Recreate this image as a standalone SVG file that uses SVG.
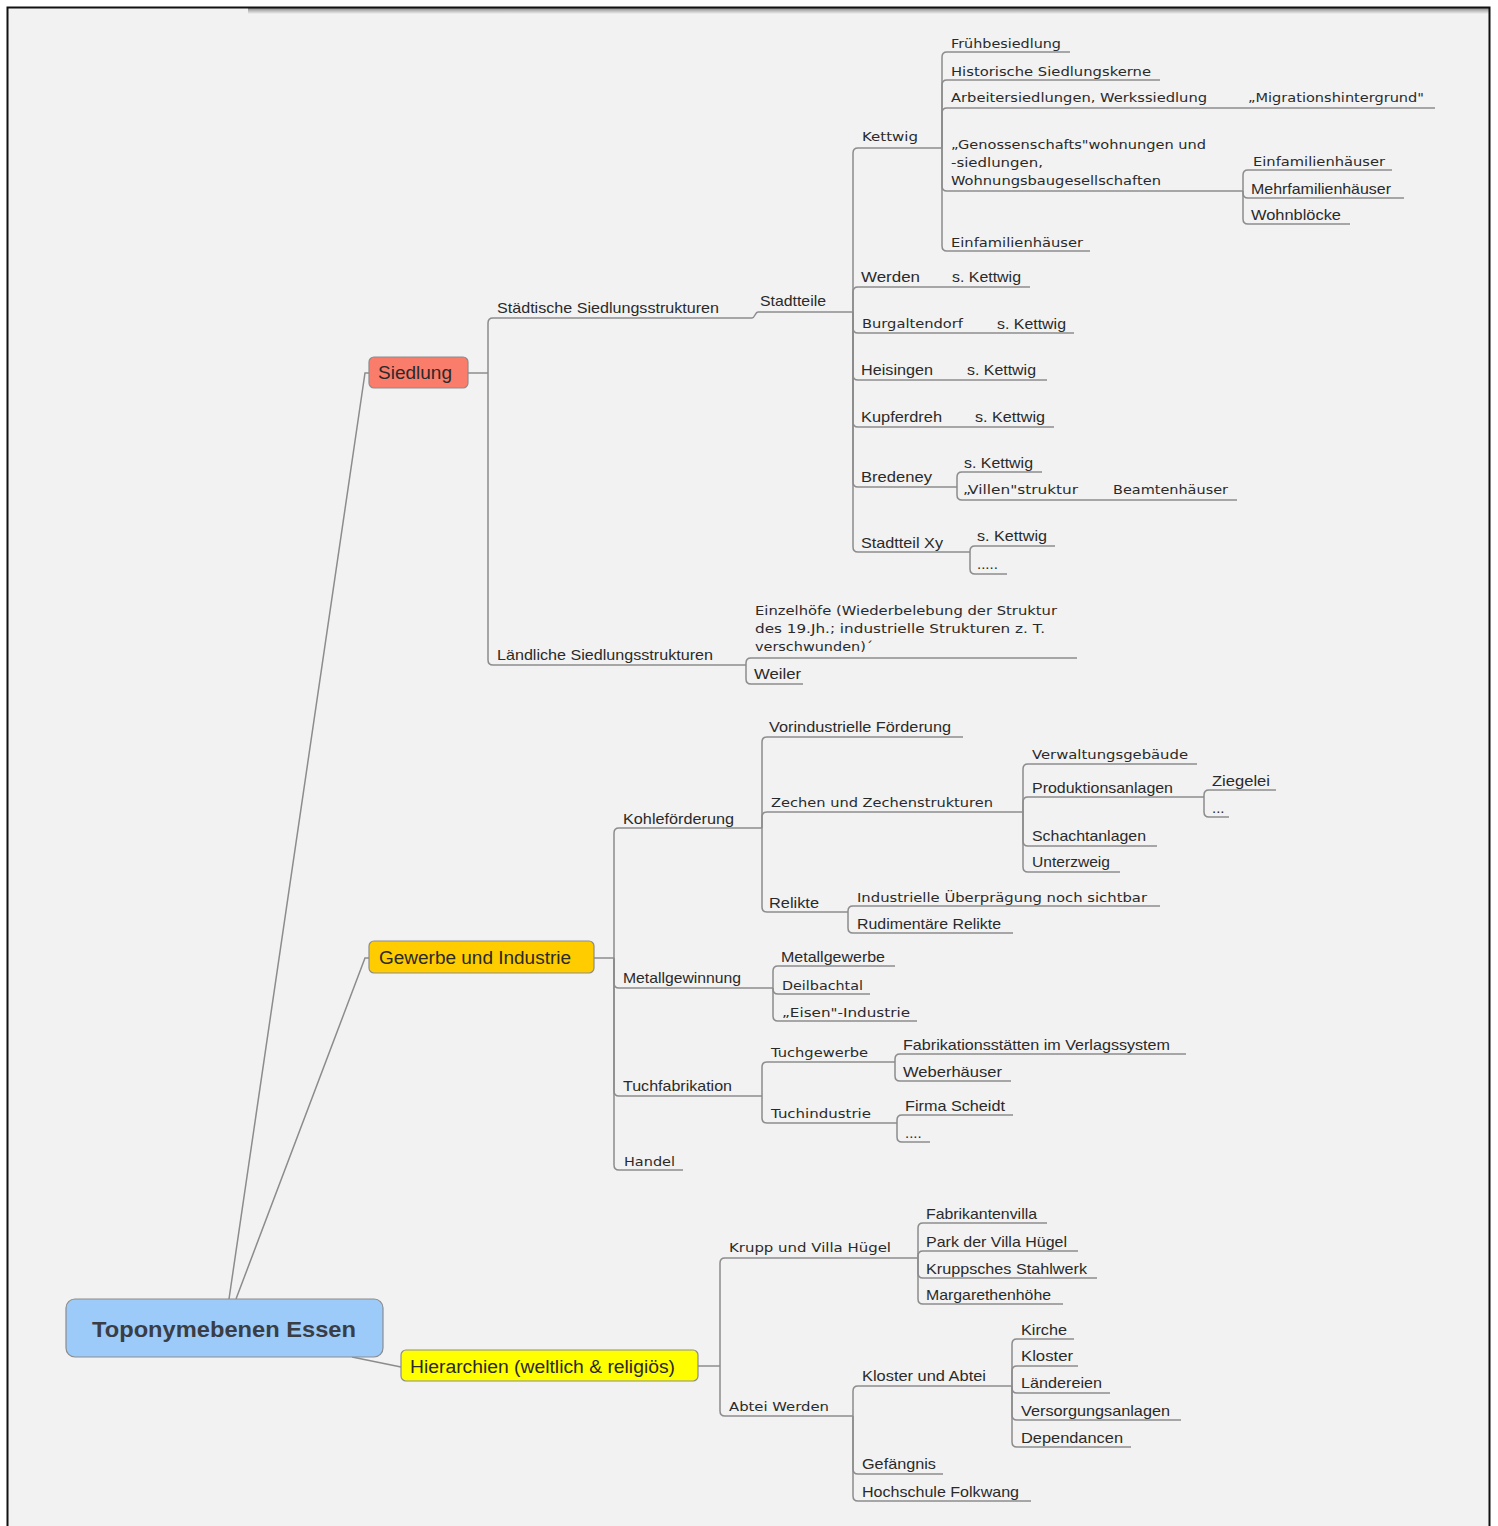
<svg xmlns="http://www.w3.org/2000/svg" width="1498" height="1526" viewBox="0 0 1498 1526">
<style>
.t{font-family:"Liberation Sans",Arial,sans-serif;font-size:15px;fill:#2a2a2a}
.v{font-family:"DejaVu Sans",Verdana,sans-serif;font-size:13px;fill:#2a2a2a}
.b{font-family:"Liberation Sans",Arial,sans-serif;font-size:18px;fill:#2a2a2a}
.u{fill:none;stroke:#8c8c8c;stroke-width:1.5}
.c{fill:none;stroke:#8c8c8c;stroke-width:1.5}
.box{stroke:#8c8c8c;stroke-width:1.2}
</style>
<defs>
<linearGradient id="sh" x1="0" y1="0" x2="0" y2="1">
<stop offset="0" stop-color="#8a8a8a"/>
<stop offset="1" stop-color="#f2f2f2"/>
</linearGradient>
</defs>
<rect x="0" y="0" width="1498" height="1526" fill="#ffffff"/>
<rect x="8" y="8" width="1481" height="1518" fill="#f2f2f2"/>
<rect x="248" y="8" width="1241" height="6" fill="url(#sh)"/>
<path d="M7.5 1526 V7.5 H1489.5 V1526" fill="none" stroke="#111" stroke-width="2"/>

<g id="connectors">
<path class="c" d="M229 1299 L365 373 L369 373"/>
<path class="c" d="M236 1299 L365 958 L369 958"/>
<path class="c" d="M352 1357 L401 1367"/>
<!-- Siedlung -->
<path class="c" d="M468 373 H488"/>
<path class="c" d="M488 373 V323 Q488 318 493 318"/>
<path class="c" d="M488 373 V660 Q488 665 493 665"/>
<path class="c" d="M752 318 C755 318 755 312 758 312"/>
<!-- Stadtteile -->
<path class="c" d="M853 312 V153 Q853 148 858 148"/>
<path class="c" d="M853 312 V292 Q853 287 858 287"/>
<path class="c" d="M853 312 V328 Q853 333 858 333"/>
<path class="c" d="M853 312 V375 Q853 380 858 380"/>
<path class="c" d="M853 312 V422 Q853 427 858 427"/>
<path class="c" d="M853 312 V482 Q853 487 858 487"/>
<path class="c" d="M853 312 V547 Q853 552 858 552"/>
<!-- Kettwig -->
<path class="c" d="M942 148 V57 Q942 52 947 52"/>
<path class="c" d="M942 148 V85 Q942 80 947 80"/>
<path class="c" d="M942 148 V113 Q942 108 947 108"/>
<path class="c" d="M942 148 V186 Q942 191 947 191"/>
<path class="c" d="M942 148 V246 Q942 251 947 251"/>
<!-- Genossenschafts -->
<path class="c" d="M1243 191 V175 Q1243 170 1248 170"/>
<path class="c" d="M1243 191 V193 Q1243 198 1248 198"/>
<path class="c" d="M1243 191 V219 Q1243 224 1248 224"/>
<!-- Bredeney -->
<path class="c" d="M957 487 V477 Q957 472 962 472"/>
<path class="c" d="M957 487 V495 Q957 500 962 500"/>
<!-- Stadtteil Xy -->
<path class="c" d="M970 552 V551 Q970 546 975 546"/>
<path class="c" d="M970 552 V569 Q970 574 975 574"/>
<!-- Laendliche -->
<path class="c" d="M746 665 V663 Q746 658 751 658"/>
<path class="c" d="M746 665 V679 Q746 684 751 684"/>
<!-- Gewerbe -->
<path class="c" d="M594 958 H614"/>
<path class="c" d="M614 958 V833 Q614 828 619 828"/>
<path class="c" d="M614 958 V983 Q614 988 619 988"/>
<path class="c" d="M614 958 V1091 Q614 1096 619 1096"/>
<path class="c" d="M614 958 V1165 Q614 1170 619 1170"/>
<!-- Kohlefoerderung -->
<path class="c" d="M762 828 V742 Q762 737 767 737"/>
<path class="c" d="M762 828 V817 Q762 812 767 812"/>
<path class="c" d="M762 828 V907 Q762 912 767 912"/>
<!-- Zechen -->
<path class="c" d="M1023 812 V769 Q1023 764 1028 764"/>
<path class="c" d="M1023 812 V802 Q1023 797 1028 797"/>
<path class="c" d="M1023 812 V841 Q1023 846 1028 846"/>
<path class="c" d="M1023 812 V867 Q1023 872 1028 872"/>
<!-- Produktionsanlagen -->
<path class="c" d="M1204 797 V795 Q1204 790 1209 790"/>
<path class="c" d="M1204 797 V812 Q1204 817 1209 817"/>
<!-- Relikte -->
<path class="c" d="M848 912 V911 Q848 906 853 906"/>
<path class="c" d="M848 912 V928 Q848 933 853 933"/>
<!-- Metallgewinnung -->
<path class="c" d="M773 988 V971 Q773 966 778 966"/>
<path class="c" d="M773 988 V989 Q773 994 778 994"/>
<path class="c" d="M773 988 V1016 Q773 1021 778 1021"/>
<!-- Tuchfabrikation -->
<path class="c" d="M762 1096 V1067 Q762 1062 767 1062"/>
<path class="c" d="M762 1096 V1118 Q762 1123 767 1123"/>
<path class="c" d="M895 1062 V1059 Q895 1054 900 1054"/>
<path class="c" d="M895 1062 V1076 Q895 1081 900 1081"/>
<path class="c" d="M897 1123 V1120 Q897 1115 902 1115"/>
<path class="c" d="M897 1123 V1137 Q897 1142 902 1142"/>
<!-- Hierarchien -->
<path class="c" d="M698 1366 H720"/>
<path class="c" d="M720 1366 V1263 Q720 1258 725 1258"/>
<path class="c" d="M720 1366 V1411 Q720 1416 725 1416"/>
<path class="c" d="M918 1258 V1228 Q918 1223 923 1223"/>
<path class="c" d="M918 1258 V1256 Q918 1251 923 1251"/>
<path class="c" d="M918 1258 V1273 Q918 1278 923 1278"/>
<path class="c" d="M918 1258 V1299 Q918 1304 923 1304"/>
<path class="c" d="M853 1416 V1391 Q853 1386 858 1386"/>
<path class="c" d="M853 1416 V1469 Q853 1474 858 1474"/>
<path class="c" d="M853 1416 V1496 Q853 1501 858 1501"/>
<path class="c" d="M1012 1386 V1344 Q1012 1339 1017 1339"/>
<path class="c" d="M1012 1386 V1371 Q1012 1366 1017 1366"/>
<path class="c" d="M1012 1386 V1388 Q1012 1393 1017 1393"/>
<path class="c" d="M1012 1386 V1415 Q1012 1420 1017 1420"/>
<path class="c" d="M1012 1386 V1442 Q1012 1447 1017 1447"/>
</g>

<g id="root"><rect class="box" x="66" y="1299" width="317" height="58" rx="9" fill="#9ccbfa"/><text x="224" y="1337" text-anchor="middle" font-family="Liberation Sans,Arial,sans-serif" font-size="22" font-weight="bold" fill="#3a3d44" textLength="264" lengthAdjust="spacingAndGlyphs">Toponymebenen Essen</text></g>
<g id="siedlung"><rect class="box" x="369" y="357" width="99" height="31" rx="5" fill="#fa7d6c"/><text class="b" x="378" y="379" textLength="74" lengthAdjust="spacingAndGlyphs">Siedlung</text></g>
<g id="gewerbe"><rect class="box" x="369" y="941" width="225" height="32" rx="5" fill="#ffcc00"/><text class="b" x="379" y="964" textLength="192" lengthAdjust="spacingAndGlyphs">Gewerbe und Industrie</text></g>
<g id="hierarchien"><rect class="box" x="401" y="1350" width="297" height="31" rx="5" fill="#ffff00"/><text class="b" x="410" y="1373" textLength="265" lengthAdjust="spacingAndGlyphs">Hierarchien (weltlich &amp; religiös)</text></g>

<g id="staedtische"><text class="t" x="497" y="313" textLength="222" lengthAdjust="spacingAndGlyphs">Städtische Siedlungsstrukturen</text><path class="u" d="M493 318 H752"/></g>
<g id="stadtteile"><text class="t" x="760" y="306" textLength="66" lengthAdjust="spacingAndGlyphs">Stadtteile</text><path class="u" d="M758 312 H853"/></g>
<g id="kettwig"><text class="v" x="862" y="141" textLength="56" lengthAdjust="spacingAndGlyphs">Kettwig</text><path class="u" d="M858 148 H942"/></g>
<g id="fruehbesiedlung"><text class="v" x="951" y="48" textLength="110" lengthAdjust="spacingAndGlyphs">Frühbesiedlung</text><path class="u" d="M947 52 H1070"/></g>
<g id="historische"><text class="v" x="951" y="76" textLength="200" lengthAdjust="spacingAndGlyphs">Historische Siedlungskerne</text><path class="u" d="M947 80 H1160"/></g>
<g id="arbeiter"><text class="v" x="951" y="102" textLength="256" lengthAdjust="spacingAndGlyphs">Arbeitersiedlungen, Werkssiedlung</text><path class="u" d="M947 108 H1240"/></g>
<g id="migration"><text class="v" x="1248" y="102" textLength="176" lengthAdjust="spacingAndGlyphs">„Migrationshintergrund"</text><path class="u" d="M1240 108 H1435"/></g>
<g id="genossenschaft"><text class="v" x="951" y="149" textLength="255" lengthAdjust="spacingAndGlyphs">„Genossenschafts"wohnungen und</text><text class="v" x="951" y="167" textLength="92" lengthAdjust="spacingAndGlyphs">-siedlungen,</text><text class="v" x="951" y="185" textLength="210" lengthAdjust="spacingAndGlyphs">Wohnungsbaugesellschaften</text><path class="u" d="M947 191 H1243"/></g>
<g id="einfam1"><text class="v" x="1253" y="166" textLength="132" lengthAdjust="spacingAndGlyphs">Einfamilienhäuser</text><path class="u" d="M1248 170 H1392"/></g>
<g id="mehrfam"><text class="t" x="1251" y="194" textLength="140" lengthAdjust="spacingAndGlyphs">Mehrfamilienhäuser</text><path class="u" d="M1248 198 H1404"/></g>
<g id="wohnbloecke"><text class="t" x="1251" y="220" textLength="90" lengthAdjust="spacingAndGlyphs">Wohnblöcke</text><path class="u" d="M1248 224 H1350"/></g>
<g id="einfam2"><text class="v" x="951" y="247" textLength="132" lengthAdjust="spacingAndGlyphs">Einfamilienhäuser</text><path class="u" d="M947 251 H1090"/></g>

<g id="werden"><text class="t" x="861" y="282" textLength="59" lengthAdjust="spacingAndGlyphs">Werden</text><path class="u" d="M858 287 H945"/></g>
<g id="werden-s"><text class="t" x="952" y="282" textLength="69" lengthAdjust="spacingAndGlyphs">s. Kettwig</text><path class="u" d="M945 287 H1030"/></g>
<g id="burgaltendorf"><text class="v" x="862" y="328" textLength="101" lengthAdjust="spacingAndGlyphs">Burgaltendorf</text><path class="u" d="M858 333 H990"/></g>
<g id="burgaltendorf-s"><text class="t" x="997" y="329" textLength="69" lengthAdjust="spacingAndGlyphs">s. Kettwig</text><path class="u" d="M990 333 H1074"/></g>
<g id="heisingen"><text class="t" x="861" y="375" textLength="72" lengthAdjust="spacingAndGlyphs">Heisingen</text><path class="u" d="M858 380 H960"/></g>
<g id="heisingen-s"><text class="t" x="967" y="375" textLength="69" lengthAdjust="spacingAndGlyphs">s. Kettwig</text><path class="u" d="M960 380 H1047"/></g>
<g id="kupferdreh"><text class="t" x="861" y="422" textLength="81" lengthAdjust="spacingAndGlyphs">Kupferdreh</text><path class="u" d="M858 427 H968"/></g>
<g id="kupferdreh-s"><text class="t" x="975" y="422" textLength="70" lengthAdjust="spacingAndGlyphs">s. Kettwig</text><path class="u" d="M968 427 H1054"/></g>
<g id="bredeney"><text class="t" x="861" y="482" textLength="71" lengthAdjust="spacingAndGlyphs">Bredeney</text><path class="u" d="M858 487 H957"/></g>
<g id="bredeney-s"><text class="t" x="964" y="468" textLength="69" lengthAdjust="spacingAndGlyphs">s. Kettwig</text><path class="u" d="M962 472 H1042"/></g>
<g id="villen"><text class="v" x="963" y="494" textLength="115" lengthAdjust="spacingAndGlyphs">„Villen"struktur</text><path class="u" d="M962 500 H1105"/></g>
<g id="beamten"><text class="v" x="1113" y="494" textLength="115" lengthAdjust="spacingAndGlyphs">Beamtenhäuser</text><path class="u" d="M1105 500 H1237"/></g>
<g id="stadtteilxy"><text class="t" x="861" y="548" textLength="82" lengthAdjust="spacingAndGlyphs">Stadtteil Xy</text><path class="u" d="M858 552 H970"/></g>
<g id="xy-s"><text class="t" x="977" y="541" textLength="70" lengthAdjust="spacingAndGlyphs">s. Kettwig</text><path class="u" d="M975 546 H1055"/></g>
<g id="xy-dots"><text class="t" x="977" y="569" font-size="11">.....</text><path class="u" d="M975 574 H1007"/></g>

<g id="laendliche"><text class="t" x="497" y="660" textLength="216" lengthAdjust="spacingAndGlyphs">Ländliche Siedlungsstrukturen</text><path class="u" d="M493 665 H746"/></g>
<g id="einzelhoefe"><text class="v" x="755" y="615" textLength="302" lengthAdjust="spacingAndGlyphs">Einzelhöfe (Wiederbelebung der Struktur</text><text class="v" x="755" y="633" textLength="290" lengthAdjust="spacingAndGlyphs">des 19.Jh.; industrielle Strukturen z. T.</text><text class="v" x="755" y="651" textLength="118" lengthAdjust="spacingAndGlyphs">verschwunden)´</text><path class="u" d="M751 658 H1077"/></g>
<g id="weiler"><text class="t" x="754" y="679" textLength="47" lengthAdjust="spacingAndGlyphs">Weiler</text><path class="u" d="M751 684 H803"/></g>

<g id="kohle"><text class="t" x="623" y="824" textLength="111" lengthAdjust="spacingAndGlyphs">Kohleförderung</text><path class="u" d="M619 828 H762"/></g>
<g id="vorindustrielle"><text class="t" x="769" y="732" textLength="182" lengthAdjust="spacingAndGlyphs">Vorindustrielle Förderung</text><path class="u" d="M767 737 H963"/></g>
<g id="zechen"><text class="v" x="771" y="807" textLength="222" lengthAdjust="spacingAndGlyphs">Zechen und Zechenstrukturen</text><path class="u" d="M767 812 H1023"/></g>
<g id="verwaltung"><text class="v" x="1032" y="759" textLength="156" lengthAdjust="spacingAndGlyphs">Verwaltungsgebäude</text><path class="u" d="M1028 764 H1197"/></g>
<g id="produktion"><text class="t" x="1032" y="793" textLength="141" lengthAdjust="spacingAndGlyphs">Produktionsanlagen</text><path class="u" d="M1028 797 H1204"/></g>
<g id="ziegelei"><text class="t" x="1212" y="786" textLength="58" lengthAdjust="spacingAndGlyphs">Ziegelei</text><path class="u" d="M1209 790 H1276"/></g>
<g id="prod-dots"><text class="t" x="1212" y="813" font-size="11">...</text><path class="u" d="M1209 817 H1229"/></g>
<g id="schacht"><text class="t" x="1032" y="841" textLength="114" lengthAdjust="spacingAndGlyphs">Schachtanlagen</text><path class="u" d="M1028 846 H1157"/></g>
<g id="unterzweig"><text class="t" x="1032" y="867" textLength="78" lengthAdjust="spacingAndGlyphs">Unterzweig</text><path class="u" d="M1028 872 H1120"/></g>
<g id="relikte"><text class="t" x="769" y="908" textLength="50" lengthAdjust="spacingAndGlyphs">Relikte</text><path class="u" d="M767 912 H848"/></g>
<g id="ueberpraegung"><text class="v" x="857" y="902" textLength="290" lengthAdjust="spacingAndGlyphs">Industrielle Überprägung noch sichtbar</text><path class="u" d="M853 906 H1160"/></g>
<g id="rudimentaer"><text class="t" x="857" y="929" textLength="144" lengthAdjust="spacingAndGlyphs">Rudimentäre Relikte</text><path class="u" d="M853 933 H1013"/></g>

<g id="metallgewinnung"><text class="t" x="623" y="983" textLength="118" lengthAdjust="spacingAndGlyphs">Metallgewinnung</text><path class="u" d="M619 988 H773"/></g>
<g id="metallgewerbe"><text class="t" x="781" y="962" textLength="104" lengthAdjust="spacingAndGlyphs">Metallgewerbe</text><path class="u" d="M778 966 H895"/></g>
<g id="deilbachtal"><text class="v" x="782" y="990" textLength="81" lengthAdjust="spacingAndGlyphs">Deilbachtal</text><path class="u" d="M778 994 H870"/></g>
<g id="eisen"><text class="v" x="782" y="1017" textLength="128" lengthAdjust="spacingAndGlyphs">„Eisen"-Industrie</text><path class="u" d="M778 1021 H917"/></g>

<g id="tuchfabrikation"><text class="t" x="623" y="1091" textLength="109" lengthAdjust="spacingAndGlyphs">Tuchfabrikation</text><path class="u" d="M619 1096 H762"/></g>
<g id="tuchgewerbe"><text class="v" x="771" y="1057" textLength="97" lengthAdjust="spacingAndGlyphs">Tuchgewerbe</text><path class="u" d="M767 1062 H895"/></g>
<g id="fabrikation"><text class="t" x="903" y="1050" textLength="267" lengthAdjust="spacingAndGlyphs">Fabrikationsstätten im Verlagssystem</text><path class="u" d="M900 1054 H1186"/></g>
<g id="weberhaeuser"><text class="t" x="903" y="1077" textLength="99" lengthAdjust="spacingAndGlyphs">Weberhäuser</text><path class="u" d="M900 1081 H1011"/></g>
<g id="tuchindustrie"><text class="v" x="771" y="1118" textLength="100" lengthAdjust="spacingAndGlyphs">Tuchindustrie</text><path class="u" d="M767 1123 H897"/></g>
<g id="scheidt"><text class="t" x="905" y="1111" textLength="100" lengthAdjust="spacingAndGlyphs">Firma Scheidt</text><path class="u" d="M902 1115 H1013"/></g>
<g id="tuch-dots"><text class="t" x="905" y="1138" font-size="11">....</text><path class="u" d="M902 1142 H930"/></g>
<g id="handel"><text class="v" x="624" y="1166" textLength="51" lengthAdjust="spacingAndGlyphs">Handel</text><path class="u" d="M619 1170 H683"/></g>

<g id="krupp"><text class="v" x="729" y="1252" textLength="162" lengthAdjust="spacingAndGlyphs">Krupp und Villa Hügel</text><path class="u" d="M725 1258 H918"/></g>
<g id="fabrikantenvilla"><text class="t" x="926" y="1219" textLength="111" lengthAdjust="spacingAndGlyphs">Fabrikantenvilla</text><path class="u" d="M923 1223 H1047"/></g>
<g id="park"><text class="t" x="926" y="1247" textLength="141" lengthAdjust="spacingAndGlyphs">Park der Villa Hügel</text><path class="u" d="M923 1251 H1078"/></g>
<g id="stahlwerk"><text class="t" x="926" y="1274" textLength="161" lengthAdjust="spacingAndGlyphs">Kruppsches Stahlwerk</text><path class="u" d="M923 1278 H1097"/></g>
<g id="margarethen"><text class="t" x="926" y="1300" textLength="125" lengthAdjust="spacingAndGlyphs">Margarethenhöhe</text><path class="u" d="M923 1304 H1063"/></g>
<g id="abtei"><text class="v" x="729" y="1411" textLength="100" lengthAdjust="spacingAndGlyphs">Abtei Werden</text><path class="u" d="M725 1416 H853"/></g>
<g id="klosterabtei"><text class="t" x="862" y="1381" textLength="124" lengthAdjust="spacingAndGlyphs">Kloster und Abtei</text><path class="u" d="M858 1386 H1012"/></g>
<g id="kirche"><text class="t" x="1021" y="1335" textLength="46" lengthAdjust="spacingAndGlyphs">Kirche</text><path class="u" d="M1017 1339 H1074"/></g>
<g id="kloster"><text class="t" x="1021" y="1361" textLength="52" lengthAdjust="spacingAndGlyphs">Kloster</text><path class="u" d="M1017 1366 H1078"/></g>
<g id="laendereien"><text class="t" x="1021" y="1388" textLength="81" lengthAdjust="spacingAndGlyphs">Ländereien</text><path class="u" d="M1017 1393 H1110"/></g>
<g id="versorgung"><text class="t" x="1021" y="1416" textLength="149" lengthAdjust="spacingAndGlyphs">Versorgungsanlagen</text><path class="u" d="M1017 1420 H1181"/></g>
<g id="dependancen"><text class="t" x="1021" y="1443" textLength="102" lengthAdjust="spacingAndGlyphs">Dependancen</text><path class="u" d="M1017 1447 H1131"/></g>
<g id="gefaengnis"><text class="t" x="862" y="1469" textLength="74" lengthAdjust="spacingAndGlyphs">Gefängnis</text><path class="u" d="M858 1474 H943"/></g>
<g id="folkwang"><text class="t" x="862" y="1497" textLength="157" lengthAdjust="spacingAndGlyphs">Hochschule Folkwang</text><path class="u" d="M858 1501 H1031"/></g>
</svg>
